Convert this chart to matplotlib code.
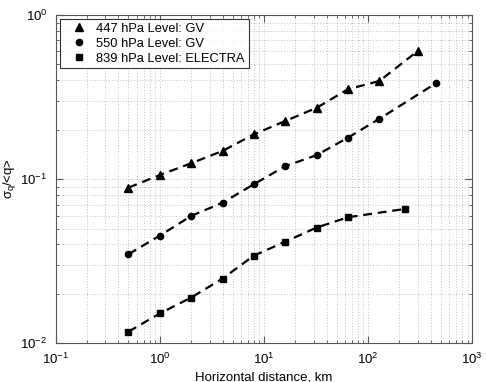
import matplotlib
matplotlib.use("Agg")
import matplotlib.pyplot as plt
from matplotlib.lines import Line2D

plt.rcParams['font.family'] = ['Liberation Sans', 'DejaVu Sans']
plt.rcParams['mathtext.fontset'] = 'custom'
plt.rcParams['mathtext.rm'] = 'Liberation Sans'
plt.rcParams['mathtext.it'] = 'Liberation Sans'

x447 = [0.5, 1, 2, 4, 8, 16, 32, 64, 128, 300]
y447 = [0.0888, 0.106, 0.125, 0.1485, 0.1876, 0.226, 0.272, 0.353, 0.396, 0.604]
x550 = [0.5, 1, 2, 4, 8, 16, 32, 64, 128, 450]
y550 = [0.0349, 0.0453, 0.0597, 0.0719, 0.0931, 0.120, 0.140, 0.179, 0.233, 0.385]
x839 = [0.5, 1, 2, 4, 8, 16, 32, 64, 228]
y839 = [0.01178, 0.0152, 0.0190, 0.0248, 0.0342, 0.0416, 0.0507, 0.0586, 0.0659]
labels = ["447 hPa Level: GV", "550 hPa Level: GV", "839 hPa Level: ELECTRA"]

fs = 9.5
fig = plt.figure(figsize=(4.86, 3.82), dpi=100)
ax = fig.add_axes([0.1146, 0.1013, 0.8572, 0.8594])

ls = (0, (4, 2.6))
ax.plot(x447, y447, color='black', ls=ls, lw=1.6, marker='^', ms=5.5)
ax.plot(x550, y550, color='black', ls=ls, lw=1.6, marker='o', ms=4.5)
ax.plot(x839, y839, color='black', ls=ls, lw=1.6, marker='s', ms=4)

ax.set_xscale('log')
ax.set_yscale('log')
ax.set_xlim(0.1, 1000)
ax.set_ylim(0.01, 1)

ax.grid(True, which='both', ls=(0, (1, 3)), color='#888888', lw=0.5)
ax.tick_params(which='both', direction='in', top=True, right=True, labelsize=fs,
               colors='#555555', labelcolor='black', pad=6)
ax.tick_params(which='major', length=5)
ax.tick_params(which='minor', length=2.5)
for s in ax.spines.values():
    s.set_color('#555555')

ax.set_xlabel("Horizontal distance, km", fontsize=fs, labelpad=3)
ax.set_ylabel(r"$\sigma_q$/<q>", fontsize=fs, labelpad=2)

handles = [Line2D([], [], color='black', ls='none', marker=m, ms=s)
           for m, s in [('^', 5.5), ('o', 4.5), ('s', 4)]]
leg = ax.legend(handles, labels, loc='upper left', fontsize=9.3, frameon=True,
                fancybox=False, edgecolor='black', handlelength=2.4,
                borderaxespad=0.3, labelspacing=0.22, handletextpad=0.15,
                borderpad=0.3)
leg.get_frame().set_linewidth(0.8)

fig.savefig("out.png", dpi=100)
